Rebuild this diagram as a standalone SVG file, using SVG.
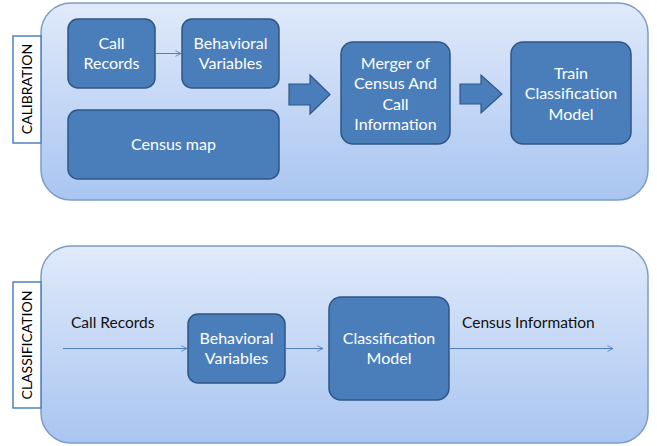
<svg xmlns="http://www.w3.org/2000/svg" width="657" height="446" viewBox="0 0 657 446">
<defs>
<linearGradient id="pg" x1="0" y1="0" x2="0" y2="1">
<stop offset="0" stop-color="#e0eafa"/>
<stop offset="1" stop-color="#a9c5f1"/>
</linearGradient>
<marker id="ah" viewBox="0 0 10 10" refX="9" refY="5" markerWidth="7" markerHeight="7" orient="auto" markerUnits="userSpaceOnUse">
<path d="M1,1 L9,5 L1,9" fill="none" stroke="#4f81bd" stroke-width="1.2"/>
</marker>
<style>
.panel{fill:url(#pg);stroke:#7e9dc6;stroke-width:1.5}
.lbl{fill:#fff;stroke:#4f81bd;stroke-width:1.5}
.lt{font-family:Lato,"Liberation Sans",sans-serif;font-size:14px;fill:#000;text-anchor:middle}
.box{fill:#4a7ebb;stroke:#2f5585;stroke-width:1.5}
.bt{font-family:Lato,"Liberation Sans",sans-serif;font-size:16px;fill:#fff;text-anchor:middle}
.ft{font-family:Lato,"Liberation Sans",sans-serif;font-size:15.5px;fill:#111}
.ln{stroke:#4f81bd;stroke-width:1;fill:none;marker-end:url(#ah)}
.barr{fill:#4a7ebb;stroke:#2f5585;stroke-width:1.2}
</style>
</defs>
<g id="calibration-panel">
<rect class="panel" x="41" y="3" width="607" height="197" rx="30"/>
<rect class="lbl" x="13" y="36" width="28" height="107"/>
<text class="lt" transform="translate(32,89) rotate(-90)">CALIBRATION</text>
</g>
<g id="classification-panel">
<rect class="panel" x="41" y="246" width="607" height="197" rx="30"/>
<rect class="lbl" x="13" y="282" width="28" height="126"/>
<text class="lt" transform="translate(32,345) rotate(-90)">CLASSIFICATION</text>
</g>
<g id="call-records">
<rect class="box" x="68" y="19" width="87" height="69" rx="10"/>
<text class="bt" x="111.5" y="48.5">Call</text>
<text class="bt" x="111.5" y="68.5">Records</text>
</g>
<g id="behavioral-variables-1">
<rect class="box" x="182" y="19" width="97" height="69" rx="10"/>
<text class="bt" x="230.5" y="48.5">Behavioral</text>
<text class="bt" x="230.5" y="68.5">Variables</text>
</g>
<g id="census-map">
<rect class="box" x="68" y="110" width="211" height="69" rx="10"/>
<text class="bt" x="173.5" y="150">Census map</text>
</g>
<g id="merger">
<rect class="box" x="341" y="42" width="109" height="102" rx="12"/>
<text class="bt" x="395.5" y="68.5">Merger of</text>
<text class="bt" x="395.5" y="89">Census And</text>
<text class="bt" x="395.5" y="109.5">Call</text>
<text class="bt" x="395.5" y="130">Information</text>
</g>
<g id="train-model">
<rect class="box" x="511" y="42" width="120" height="102" rx="12"/>
<text class="bt" x="571" y="78.5">Train</text>
<text class="bt" x="571" y="99">Classification</text>
<text class="bt" x="571" y="119.5">Model</text>
</g>
<g id="behavioral-variables-2">
<rect class="box" x="188" y="314" width="97" height="69" rx="10"/>
<text class="bt" x="236.5" y="343.5">Behavioral</text>
<text class="bt" x="236.5" y="363.5">Variables</text>
</g>
<g id="classification-model">
<rect class="box" x="329" y="297" width="120" height="103" rx="12"/>
<text class="bt" x="389" y="343.5">Classification</text>
<text class="bt" x="389" y="363.5">Model</text>
</g>
<g id="free-labels">
<text class="ft" x="71" y="327.5">Call Records</text>
<text class="ft" x="462" y="327.5">Census Information</text>
</g>
<g id="connectors">
<line class="ln" x1="155" y1="53.5" x2="181" y2="53.5"/>
<path class="barr" d="M289,84 L310,84 L310,75 L330,94.5 L310,114 L310,105 L289,105 Z"/>
<path class="barr" d="M460,84 L481,84 L481,75 L502,94 L481,113 L481,104 L460,104 Z"/>
<line class="ln" x1="63" y1="348.5" x2="187" y2="348.5"/>
<line class="ln" x1="285" y1="348.5" x2="323" y2="348.5"/>
<line class="ln" x1="449" y1="348.5" x2="613" y2="348.5"/>
</g>
</svg>
